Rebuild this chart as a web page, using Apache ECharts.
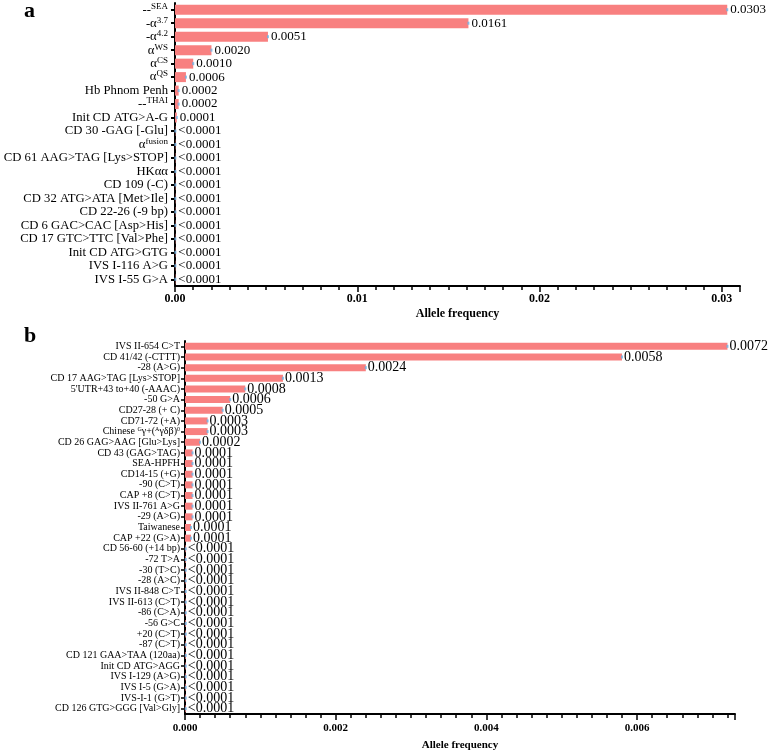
<!DOCTYPE html>
<html><head><meta charset="utf-8">
<script src="https://cdn.jsdelivr.net/npm/echarts@6/dist/echarts.min.js"></script>
<style>html,body{margin:0;padding:0;background:#fff}#c{width:783px;height:751px}</style>
</head><body><div id="c"></div>
<script>
// Panel a: alpha-thalassemia variants (^...^ marks superscript)
const catsA = ['--^SEA^','-α^3.7^','-α^4.2^','α^WS^','α^CS^','α^QS^','Hb Phnom Penh','--^THAI^','Init CD ATG>A-G','CD 30 -GAG [-Glu]','α^fusion^','CD 61 AAG>TAG [Lys>STOP]','HKαα','CD 109 (-C)','CD 32 ATG>ATA [Met>Ile]','CD 22-26 (-9 bp)','CD 6 GAC>CAC [Asp>His]','CD 17 GTC>TTC [Val>Phe]','Init CD ATG>GTG','IVS I-116 A>G','IVS I-55 G>A'];
const valsA = [0.0303,0.0161,0.0051,0.0020,0.0010,0.0006,0.0002,0.0002,0.0001,0.00002,0.00002,0.00002,0.00002,0.00002,0.00002,0.00002,0.00002,0.00002,0.00002,0.00002,0.00002];
const labsA = ['0.0303','0.0161','0.0051','0.0020','0.0010','0.0006','0.0002','0.0002','0.0001','<0.0001','<0.0001','<0.0001','<0.0001','<0.0001','<0.0001','<0.0001','<0.0001','<0.0001','<0.0001','<0.0001','<0.0001'];
const ticksA = ['0.00','0.01','0.02','0.03'];

// Panel b: beta-thalassemia variants
const catsB = ['IVS II-654 C>T','CD 41/42 (-CTTT)','-28 (A>G)','CD 17 AAG>TAG [Lys>STOP]','5\'UTR+43 to+40 (-AAAC)','-50 G>A','CD27-28 (+ C)','CD71-72 (+A)','Chinese ^G^γ+(^A^γδβ)^0^','CD 26 GAG>AAG [Glu>Lys]','CD 43 (GAG>TAG)','SEA-HPFH','CD14-15 (+G)','-90 (C>T)','CAP +8 (C>T)','IVS II-761 A>G','-29 (A>G)','Taiwanese','CAP +22 (G>A)','CD 56-60 (+14 bp)','-72 T>A','-30 (T>C)','-28 (A>C)','IVS II-848 C>T','IVS II-613 (C>T)','-86 (C>A)','-56 G>C','+20 (C>T)','-87 (C>T)','CD 121 GAA>TAA (120aa)','Init CD ATG>AGG','IVS I-129 (A>G)','IVS I-5 (G>A)','IVS-I-1 (G>T)','CD 126 GTG>GGG [Val>Gly]'];
const valsB = [0.0072,0.0058,0.0024,0.0013,0.0008,0.0006,0.0005,0.0003,0.0003,0.0002,0.0001,0.0001,0.0001,0.0001,0.0001,0.0001,0.0001,0.00008,0.00008,0.00001,0.00001,0.00001,0.00001,0.00001,0.00001,0.00001,0.00001,0.00001,0.00001,0.00001,0.00001,0.00001,0.00001,0.00001,0.00001];
const labsB = ['0.0072','0.0058','0.0024','0.0013','0.0008','0.0006','0.0005','0.0003','0.0003','0.0002','0.0001','0.0001','0.0001','0.0001','0.0001','0.0001','0.0001','0.0001','0.0001','<0.0001','<0.0001','<0.0001','<0.0001','<0.0001','<0.0001','<0.0001','<0.0001','<0.0001','<0.0001','<0.0001','<0.0001','<0.0001','<0.0001','<0.0001','<0.0001'];
const ticksB = ['0.000','0.002','0.004','0.006'];

const FONT = 'Liberation Serif';
const BAR = '#F88080';
const DOT = '#6DB3E6';

function richName(name){
  return name.split('^').map((p,i)=> p ? (i%2 ? '{s|'+p+'}' : '{n|'+p+'}') : '').join('');
}
function tickFmt(list, step){
  return function(v){
    const k = Math.round(v/step);
    if (Math.abs(v/step - k) < 1e-6 && k < list.length) return list[k];
    return '';
  };
}

const chart = echarts.init(document.getElementById('c'));
const axisLineStyle = {color:'#000', width:2};

chart.setOption({
  animation:false,
  backgroundColor:'#fff',
  graphic:[
    {type:'text', left:24, top:0, style:{text:'a', font:'bold 22px "'+FONT+'"', fill:'#000'}},
    {type:'text', left:24, top:325, style:{text:'b', font:'bold 22px "'+FONT+'"', fill:'#000'}}
  ],
  grid:[
    {left:175, top:3, width:565, height:283, containLabel:false, outerBoundsMode:'none'},
    {left:185, top:341, width:550, height:373, containLabel:false, outerBoundsMode:'none'}
  ],
  xAxis:[
    {gridIndex:0, type:'value', position:'bottom', min:0, max:0.031, interval:0.001,
     axisLine:{show:true, lineStyle:axisLineStyle},
     axisTick:{show:true, length:4, lineStyle:{color:'#000', width:1.5}},
     splitLine:{show:false},
     axisLabel:{formatter:tickFmt(ticksA,0.01), color:'#000', fontFamily:FONT, fontWeight:'bold', fontSize:12, margin:7, showMaxLabel:true},
     name:'Allele frequency', nameLocation:'middle', nameGap:22,
     nameTextStyle:{color:'#000', fontFamily:FONT, fontWeight:'bold', fontSize:12}},
    {gridIndex:0, type:'value', position:'bottom', offset:0, min:0, max:0.031, interval:0.01,
     axisLine:{show:false}, axisLabel:{show:false}, splitLine:{show:false},
     axisTick:{show:true, length:6, lineStyle:{color:'#000', width:1.5}}},
    {gridIndex:1, type:'value', position:'bottom', min:0, max:0.0073, interval:0.0002,
     axisLine:{show:true, lineStyle:axisLineStyle},
     axisTick:{show:true, length:4, lineStyle:{color:'#000', width:1.5}},
     splitLine:{show:false},
     axisLabel:{formatter:tickFmt(ticksB,0.002), color:'#000', fontFamily:FONT, fontWeight:'bold', fontSize:11, margin:9},
     name:'Allele frequency', nameLocation:'middle', nameGap:26,
     nameTextStyle:{color:'#000', fontFamily:FONT, fontWeight:'bold', fontSize:11}},
    {gridIndex:1, type:'value', position:'bottom', offset:0, min:0, max:0.0073, interval:0.002,
     axisLine:{show:false}, axisLabel:{show:false}, splitLine:{show:false},
     axisTick:{show:true, length:6, lineStyle:{color:'#000', width:1.5}}}
  ],
  yAxis:[
    {gridIndex:0, type:'category', data:catsA, inverse:true,
     axisLine:{show:true, lineStyle:axisLineStyle},
     axisTick:{show:true, alignWithLabel:true, length:4, lineStyle:{color:'#000', width:2}},
     axisLabel:{formatter:richName, margin:7, interval:0,
       rich:{n:{fontFamily:FONT, fontSize:12.7, color:'#000', lineHeight:15},
             s:{fontFamily:FONT, fontSize:9, color:'#000', lineHeight:9, verticalAlign:'top'}}}},
    {gridIndex:1, type:'category', data:catsB, inverse:true,
     axisLine:{show:true, lineStyle:axisLineStyle},
     axisTick:{show:true, alignWithLabel:true, length:4, lineStyle:{color:'#000', width:1.5}},
     axisLabel:{formatter:richName, margin:5, interval:0,
       rich:{n:{fontFamily:FONT, fontSize:10, color:'#000', lineHeight:11},
             s:{fontFamily:FONT, fontSize:6, color:'#000', lineHeight:6, verticalAlign:'top'}}}}
  ],
  series:[
    {type:'bar', xAxisIndex:0, yAxisIndex:0, data:valsA, barWidth:10,
     itemStyle:{color:BAR},
     label:{show:true, position:'right', distance:3, color:'#000', fontFamily:FONT, fontSize:13,
       formatter:p=>labsA[p.dataIndex]}},
    {type:'scatter', xAxisIndex:0, yAxisIndex:0, data:valsA, symbol:'rect', symbolSize:[2,3],
     itemStyle:{color:DOT}, z:5},
    {type:'bar', xAxisIndex:2, yAxisIndex:1, data:valsB, barWidth:7,
     itemStyle:{color:BAR},
     label:{show:true, position:'right', distance:2, color:'#000', fontFamily:FONT, fontSize:14,
       formatter:p=>labsB[p.dataIndex]}},
    {type:'scatter', xAxisIndex:2, yAxisIndex:1, data:valsB, symbol:'rect', symbolSize:[2,3],
     itemStyle:{color:DOT}, z:5}
  ]
});
</script></body></html>
